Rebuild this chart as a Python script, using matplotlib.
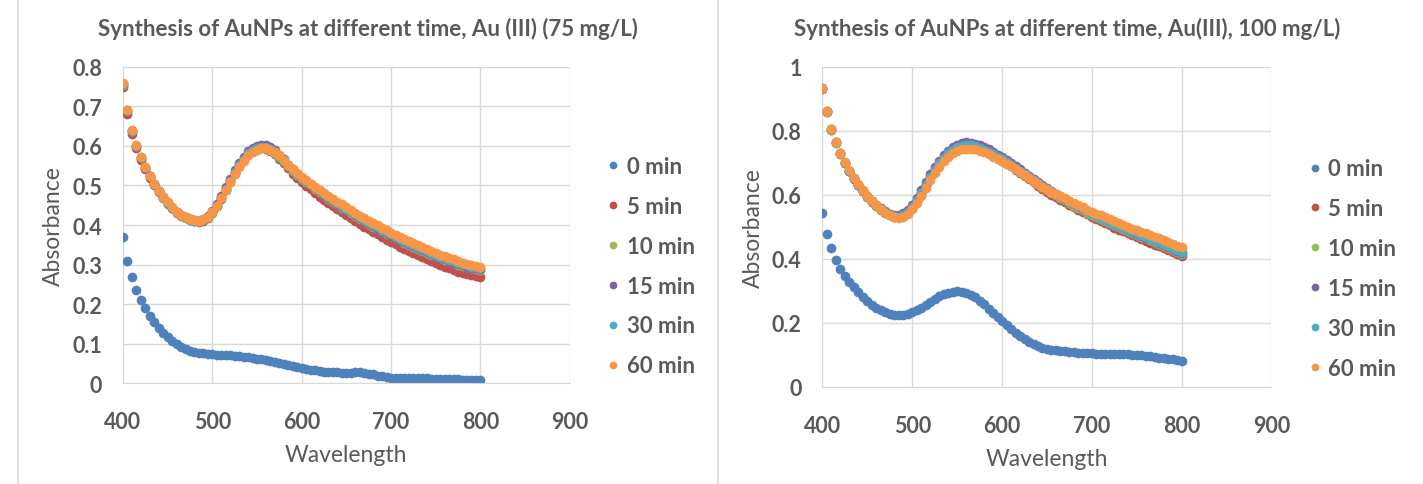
"""
Espectros UV-Vis de la sintesis de AuNPs a distintos tiempos (75 y 100 mg/L).
Dos paneles estilo Excel con marcadores circulares.
"""

import matplotlib.pyplot as plt
import numpy as np
from matplotlib.lines import Line2D

# Longitud de onda (nm), un punto cada 5 nm
wavelength = np.arange(400, 801, 5)

times = ["0 min", "5 min", "10 min", "15 min", "30 min", "60 min"]
colors = ["#4F81BD", "#C0504D", "#9BBB59", "#8064A2", "#4BACC6", "#F79646"]

# ---- Au(III) 75 mg/L ----
abs75_0 = [
    0.370, 0.310, 0.268, 0.236, 0.210, 0.189, 0.170, 0.154, 0.140, 0.127,
    0.116, 0.106, 0.098, 0.091, 0.086, 0.082, 0.079, 0.077, 0.075, 0.074,
    0.073, 0.072, 0.072, 0.071, 0.070, 0.069, 0.068, 0.067, 0.066, 0.064,
    0.062, 0.060, 0.058, 0.056, 0.054, 0.051, 0.049, 0.046, 0.043, 0.041,
    0.038, 0.036, 0.034, 0.032, 0.030, 0.029, 0.028, 0.027, 0.027, 0.026,
    0.026, 0.026, 0.027, 0.027, 0.026, 0.024, 0.022, 0.019, 0.017, 0.015,
    0.014, 0.014, 0.013, 0.013, 0.013, 0.012, 0.012, 0.012, 0.012, 0.011,
    0.011, 0.011, 0.011, 0.010, 0.010, 0.010, 0.009, 0.009, 0.009, 0.008,
    0.008,
]
abs75_5 = [
    0.748, 0.680, 0.630, 0.594, 0.565, 0.541, 0.520, 0.501, 0.484, 0.468,
    0.454, 0.442, 0.431, 0.423, 0.417, 0.412, 0.409, 0.408, 0.411, 0.418,
    0.431, 0.447, 0.467, 0.488, 0.510, 0.531, 0.550, 0.566, 0.579, 0.588,
    0.592, 0.594, 0.592, 0.587, 0.579, 0.568, 0.556, 0.543, 0.530, 0.518,
    0.508, 0.499, 0.490, 0.481, 0.472, 0.464, 0.456, 0.448, 0.440, 0.432,
    0.425, 0.417, 0.410, 0.403, 0.396, 0.389, 0.382, 0.376, 0.369, 0.363,
    0.357, 0.351, 0.345, 0.339, 0.334, 0.328, 0.323, 0.318, 0.313, 0.308,
    0.303, 0.299, 0.294, 0.290, 0.286, 0.282, 0.279, 0.276, 0.273, 0.271,
    0.269,
]
abs75_10 = [
    0.755, 0.688, 0.637, 0.599, 0.569, 0.544, 0.523, 0.503, 0.485, 0.469,
    0.455, 0.443, 0.432, 0.424, 0.418, 0.413, 0.410, 0.409, 0.412, 0.419,
    0.432, 0.448, 0.468, 0.489, 0.511, 0.532, 0.551, 0.567, 0.580, 0.589,
    0.594, 0.597, 0.596, 0.591, 0.583, 0.573, 0.561, 0.549, 0.537, 0.527,
    0.517, 0.508, 0.500, 0.491, 0.483, 0.475, 0.467, 0.459, 0.452, 0.444,
    0.437, 0.430, 0.423, 0.416, 0.409, 0.402, 0.396, 0.390, 0.384, 0.378,
    0.372, 0.366, 0.361, 0.355, 0.350, 0.345, 0.340, 0.335, 0.330, 0.325,
    0.321, 0.316, 0.312, 0.308, 0.304, 0.300, 0.297, 0.294, 0.291, 0.289,
    0.287,
]
abs75_15 = [
    0.756, 0.689, 0.638, 0.600, 0.570, 0.545, 0.524, 0.504, 0.486, 0.470,
    0.456, 0.444, 0.433, 0.425, 0.419, 0.414, 0.412, 0.411, 0.415, 0.423,
    0.436, 0.453, 0.473, 0.495, 0.517, 0.538, 0.557, 0.573, 0.586, 0.595,
    0.600, 0.603, 0.602, 0.597, 0.589, 0.578, 0.566, 0.553, 0.541, 0.530,
    0.520, 0.511, 0.502, 0.493, 0.485, 0.477, 0.469, 0.461, 0.453, 0.446,
    0.439, 0.432, 0.425, 0.418, 0.411, 0.404, 0.398, 0.391, 0.385, 0.379,
    0.373, 0.367, 0.362, 0.356, 0.351, 0.346, 0.341, 0.336, 0.331, 0.326,
    0.322, 0.317, 0.313, 0.309, 0.305, 0.301, 0.298, 0.295, 0.292, 0.290,
    0.288,
]
abs75_30 = [
    0.757, 0.690, 0.639, 0.601, 0.571, 0.546, 0.524, 0.504, 0.486, 0.470,
    0.456, 0.444, 0.433, 0.425, 0.419, 0.414, 0.411, 0.410, 0.413, 0.420,
    0.433, 0.449, 0.469, 0.490, 0.512, 0.533, 0.552, 0.568, 0.581, 0.590,
    0.595, 0.598, 0.597, 0.592, 0.585, 0.575, 0.563, 0.551, 0.540, 0.529,
    0.520, 0.511, 0.503, 0.494, 0.486, 0.478, 0.470, 0.463, 0.455, 0.448,
    0.441, 0.434, 0.427, 0.420, 0.413, 0.407, 0.400, 0.394, 0.388, 0.382,
    0.376, 0.370, 0.365, 0.359, 0.354, 0.349, 0.344, 0.339, 0.334, 0.329,
    0.325, 0.320, 0.316, 0.312, 0.308, 0.304, 0.301, 0.298, 0.295, 0.293,
    0.291,
]
abs75_60 = [
    0.760, 0.692, 0.640, 0.602, 0.572, 0.547, 0.525, 0.505, 0.487, 0.471,
    0.457, 0.445, 0.434, 0.426, 0.420, 0.415, 0.412, 0.411, 0.414, 0.421,
    0.433, 0.449, 0.468, 0.489, 0.510, 0.530, 0.548, 0.563, 0.576, 0.585,
    0.591, 0.594, 0.594, 0.591, 0.585, 0.576, 0.565, 0.553, 0.542, 0.531,
    0.521, 0.513, 0.505, 0.497, 0.489, 0.481, 0.474, 0.466, 0.459, 0.452,
    0.445, 0.438, 0.431, 0.424, 0.418, 0.411, 0.405, 0.399, 0.393, 0.387,
    0.381, 0.375, 0.370, 0.364, 0.359, 0.354, 0.349, 0.344, 0.339, 0.334,
    0.330, 0.325, 0.321, 0.317, 0.313, 0.309, 0.305, 0.302, 0.299, 0.297,
    0.295,
]

# ---- Au(III) 100 mg/L ----
abs100_0 = [
    0.545, 0.478, 0.433, 0.398, 0.370, 0.347, 0.328, 0.311, 0.296, 0.282,
    0.269, 0.257, 0.247, 0.239, 0.233, 0.228, 0.225, 0.224, 0.225, 0.228,
    0.233, 0.240, 0.248, 0.257, 0.266, 0.275, 0.283, 0.290, 0.295, 0.298,
    0.299, 0.298, 0.294, 0.288, 0.280, 0.270, 0.258, 0.245, 0.232, 0.219,
    0.206, 0.194, 0.182, 0.170, 0.159, 0.149, 0.140, 0.133, 0.127, 0.122,
    0.119, 0.117, 0.115, 0.113, 0.112, 0.110, 0.109, 0.107, 0.106, 0.105,
    0.105, 0.104, 0.104, 0.104, 0.103, 0.103, 0.103, 0.102, 0.102, 0.101,
    0.100, 0.099, 0.098, 0.096, 0.094, 0.092, 0.090, 0.088, 0.086, 0.084,
    0.082,
]
abs100_5 = [
    0.930, 0.858, 0.803, 0.762, 0.728, 0.699, 0.674, 0.651, 0.630, 0.611,
    0.594, 0.579, 0.566, 0.554, 0.544, 0.536, 0.531, 0.530, 0.534, 0.544,
    0.560, 0.581, 0.605, 0.630, 0.654, 0.677, 0.697, 0.714, 0.728, 0.739,
    0.747, 0.752, 0.754, 0.753, 0.750, 0.745, 0.739, 0.732, 0.724, 0.716,
    0.707, 0.698, 0.689, 0.679, 0.669, 0.659, 0.649, 0.639, 0.629, 0.619,
    0.609, 0.601, 0.593, 0.585, 0.577, 0.569, 0.561, 0.554, 0.546, 0.539,
    0.532, 0.525, 0.518, 0.511, 0.505, 0.498, 0.492, 0.486, 0.480, 0.474,
    0.468, 0.462, 0.457, 0.451, 0.445, 0.440, 0.434, 0.428, 0.422, 0.416,
    0.408,
]
abs100_10 = [
    0.932, 0.860, 0.804, 0.763, 0.729, 0.700, 0.675, 0.652, 0.631, 0.612,
    0.595, 0.580, 0.567, 0.555, 0.545, 0.537, 0.532, 0.531, 0.535, 0.545,
    0.561, 0.582, 0.606, 0.631, 0.655, 0.678, 0.698, 0.715, 0.729, 0.740,
    0.748, 0.753, 0.755, 0.754, 0.751, 0.746, 0.740, 0.733, 0.726, 0.718,
    0.709, 0.700, 0.691, 0.682, 0.672, 0.663, 0.653, 0.643, 0.634, 0.624,
    0.615, 0.607, 0.599, 0.591, 0.583, 0.575, 0.567, 0.560, 0.552, 0.545,
    0.538, 0.531, 0.524, 0.518, 0.511, 0.505, 0.499, 0.493, 0.487, 0.481,
    0.475, 0.469, 0.464, 0.458, 0.452, 0.447, 0.441, 0.435, 0.429, 0.423,
    0.416,
]
abs100_15 = [
    0.933, 0.861, 0.805, 0.764, 0.730, 0.701, 0.676, 0.653, 0.632, 0.613,
    0.596, 0.582, 0.569, 0.558, 0.549, 0.542, 0.538, 0.538, 0.543, 0.554,
    0.570, 0.591, 0.615, 0.640, 0.664, 0.687, 0.707, 0.724, 0.738, 0.749,
    0.757, 0.762, 0.764, 0.763, 0.760, 0.755, 0.749, 0.742, 0.734, 0.726,
    0.717, 0.708, 0.699, 0.689, 0.680, 0.670, 0.660, 0.650, 0.640, 0.631,
    0.621, 0.612, 0.604, 0.596, 0.588, 0.580, 0.572, 0.564, 0.557, 0.550,
    0.543, 0.536, 0.529, 0.522, 0.515, 0.509, 0.503, 0.497, 0.491, 0.485,
    0.479, 0.473, 0.467, 0.461, 0.455, 0.449, 0.443, 0.437, 0.431, 0.425,
    0.418,
]
abs100_30 = [
    0.934, 0.861, 0.805, 0.764, 0.730, 0.701, 0.676, 0.653, 0.632, 0.613,
    0.596, 0.581, 0.568, 0.556, 0.546, 0.538, 0.533, 0.532, 0.536, 0.546,
    0.562, 0.583, 0.607, 0.632, 0.656, 0.679, 0.699, 0.716, 0.730, 0.741,
    0.749, 0.754, 0.756, 0.755, 0.752, 0.747, 0.741, 0.734, 0.727, 0.719,
    0.711, 0.702, 0.693, 0.684, 0.675, 0.666, 0.656, 0.647, 0.638, 0.628,
    0.619, 0.611, 0.603, 0.595, 0.587, 0.579, 0.571, 0.564, 0.556, 0.549,
    0.542, 0.535, 0.529, 0.522, 0.516, 0.510, 0.504, 0.498, 0.492, 0.486,
    0.480, 0.474, 0.469, 0.463, 0.457, 0.452, 0.446, 0.440, 0.434, 0.428,
    0.422,
]
abs100_60 = [
    0.935, 0.862, 0.806, 0.765, 0.731, 0.702, 0.677, 0.654, 0.633, 0.614,
    0.597, 0.582, 0.568, 0.556, 0.545, 0.536, 0.530, 0.528, 0.531, 0.540,
    0.555, 0.575, 0.598, 0.622, 0.646, 0.668, 0.688, 0.705, 0.719, 0.730,
    0.738, 0.743, 0.745, 0.745, 0.742, 0.738, 0.733, 0.727, 0.720, 0.713,
    0.705, 0.697, 0.689, 0.680, 0.671, 0.662, 0.653, 0.644, 0.635, 0.626,
    0.617, 0.610, 0.603, 0.596, 0.589, 0.582, 0.575, 0.568, 0.561, 0.554,
    0.548, 0.542, 0.536, 0.530, 0.524, 0.518, 0.512, 0.506, 0.501, 0.495,
    0.490, 0.485, 0.480, 0.475, 0.469, 0.464, 0.459, 0.453, 0.448, 0.442,
    0.436,
]

TEXT_COLOR = "#595959"
GRID_COLOR = "#D9D9D9"
FONT = ["Lato", "DejaVu Sans"]


def draw_panel(fig, ax, series, title, title_x, ymax, ystep):
    for vals, color, label in zip(series, colors, times):
        ax.plot(wavelength, vals, linestyle="none", marker="o", markersize=7,
                markeredgewidth=0, color=color, label=label)

    ax.set_xlim(400, 900)
    ax.set_ylim(0, ymax)
    ax.set_xticks(np.arange(400, 901, 100))
    yt = np.arange(0, ymax + 1e-9, ystep)
    ax.set_yticks(yt)
    ax.set_yticklabels([f"{v:g}" for v in yt])
    ax.grid(True, color=GRID_COLOR, linewidth=1)
    ax.set_axisbelow(True)
    for side in ["top", "right", "left"]:
        ax.spines[side].set_visible(False)
    ax.spines["bottom"].set_color(GRID_COLOR)
    ax.tick_params(length=0, labelcolor=TEXT_COLOR, labelsize=15.5)
    ax.tick_params(axis="x", pad=20)
    ax.tick_params(axis="y", pad=15)
    for lbl in ax.get_xticklabels() + ax.get_yticklabels():
        lbl.set_family(FONT)
        lbl.set_fontweight("bold")

    ax.set_xlabel("Wavelength", fontsize=16.5, color=TEXT_COLOR, family=FONT, labelpad=9)
    ax.set_ylabel("Absorbance", fontsize=16.5, color=TEXT_COLOR, family=FONT, labelpad=6)
    fig.text(title_x, 0.94, title, fontsize=16, color=TEXT_COLOR, family=FONT,
             fontweight="bold", ha="center", va="center")

    leg = ax.legend(loc="center left", bbox_to_anchor=(1.03, 0.37), frameon=False,
                    handletextpad=0.15, labelspacing=0.85, markerscale=0.8,
                    handlelength=0.9, prop={"family": FONT, "size": 16, "weight": "bold"})
    for txt in leg.get_texts():
        txt.set_color(TEXT_COLOR)


fig = plt.figure(figsize=(14.23, 4.85), dpi=100)
ax1 = fig.add_axes([0.0864, 0.208, 0.314, 0.652])
ax2 = fig.add_axes([0.578, 0.200, 0.3155, 0.660])

draw_panel(fig, ax1, [abs75_0, abs75_5, abs75_10, abs75_15, abs75_30, abs75_60],
           "Synthesis of AuNPs at different time, Au (III) (75 mg/L)", 368 / 1423, 0.8, 0.1)
draw_panel(fig, ax2, [abs100_0, abs100_5, abs100_10, abs100_15, abs100_30, abs100_60],
           "Synthesis of AuNPs at different time, Au(III), 100 mg/L)", 1067 / 1423, 1.0, 0.2)

# bordes de los graficos
for xpos in [18 / 1423, 718 / 1423]:
    fig.add_artist(Line2D([xpos, xpos], [0, 1], color=GRID_COLOR, linewidth=1.2))

plt.savefig("out.png", dpi=100)
